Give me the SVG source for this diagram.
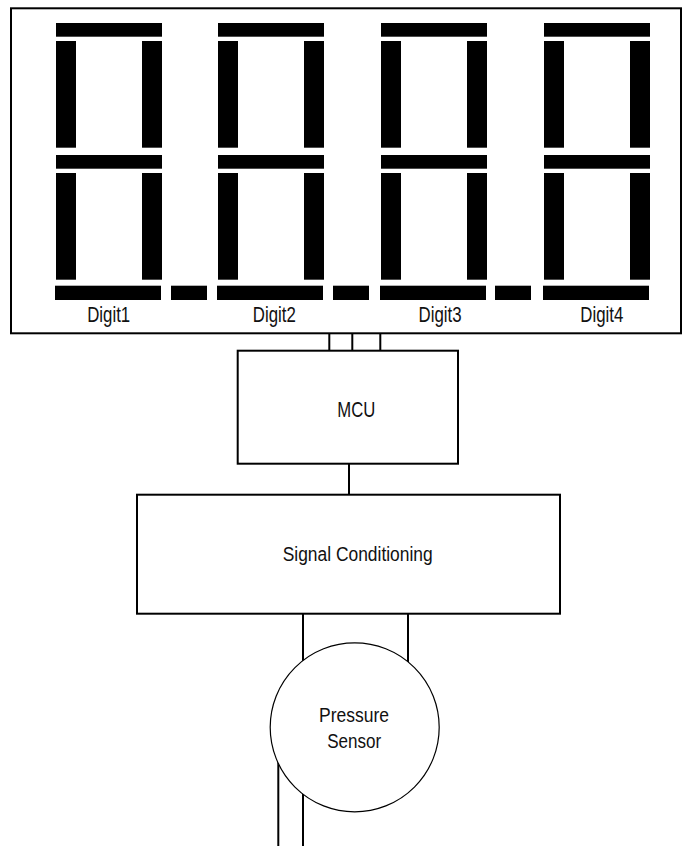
<svg xmlns="http://www.w3.org/2000/svg" xmlns:xlink="http://www.w3.org/1999/xlink" width="683" height="846" viewBox="0 0 683 846">
  <style>
    .box { fill: #ffffff; stroke: #000000; stroke-width: 2; }
    .circ { fill: #ffffff; stroke: #000000; stroke-width: 1.2; }
    .wire { stroke: #000000; stroke-width: 2; fill: none; }
    .seg { fill: #000000; }
    .lbl { font-family: "Liberation Sans", Arial, sans-serif; fill: #111111; text-anchor: middle; }
  </style>
  <defs>
    <g id="segs">
      <rect class="seg" x="0" y="23" width="106" height="13.7"/>
      <rect class="seg" x="0" y="41" width="20" height="106.7"/>
      <rect class="seg" x="86" y="41" width="20" height="106.7"/>
      <rect class="seg" x="0" y="155" width="106" height="13.7"/>
      <rect class="seg" x="0" y="173" width="20" height="106.7"/>
      <rect class="seg" x="86" y="173" width="20" height="106.7"/>
      <rect class="seg" x="-1" y="285.7" width="106" height="14.3"/>
    </g>
    <rect id="dp" class="seg" x="0" y="285.7" width="36" height="14.3"/>
  </defs>

  <g id="display">
    <rect class="box" x="11" y="8.3" width="670" height="325"/>
  </g>

  <g id="digit1">
    <use xlink:href="#segs" x="56" y="0"/>
    <use xlink:href="#dp" x="171" y="0"/>
    <text class="lbl" x="108.7" y="321.5" font-size="21.5" textLength="43" lengthAdjust="spacingAndGlyphs">Digit1</text>
  </g>
  <g id="digit2">
    <use xlink:href="#segs" x="218" y="0"/>
    <use xlink:href="#dp" x="333" y="0"/>
    <text class="lbl" x="274.3" y="321.5" font-size="21.5" textLength="43" lengthAdjust="spacingAndGlyphs">Digit2</text>
  </g>
  <g id="digit3">
    <use xlink:href="#segs" x="381" y="0"/>
    <use xlink:href="#dp" x="495" y="0"/>
    <text class="lbl" x="440" y="321.5" font-size="21.5" textLength="43" lengthAdjust="spacingAndGlyphs">Digit3</text>
  </g>
  <g id="digit4">
    <use xlink:href="#segs" x="544" y="0"/>
    <text class="lbl" x="601.8" y="321.5" font-size="21.5" textLength="43" lengthAdjust="spacingAndGlyphs">Digit4</text>
  </g>

  <g id="connectors">
    <line class="wire" x1="329.3" y1="333" x2="329.3" y2="351"/>
    <line class="wire" x1="352.3" y1="333" x2="352.3" y2="351"/>
    <line class="wire" x1="380.3" y1="333" x2="380.3" y2="351"/>
    <line class="wire" x1="349" y1="464" x2="349" y2="495"/>
    <line class="wire" x1="303" y1="614" x2="303" y2="846"/>
    <line class="wire" x1="408" y1="614" x2="408" y2="700"/>
    <line class="wire" x1="278.3" y1="727" x2="278.3" y2="846"/>
  </g>

  <g id="mcu">
    <rect class="box" x="237.7" y="350.7" width="220.3" height="113"/>
    <text class="lbl" x="356.3" y="416.5" font-size="22" textLength="38" lengthAdjust="spacingAndGlyphs">MCU</text>
  </g>

  <g id="signal-conditioning">
    <rect class="box" x="137" y="494.7" width="423" height="119"/>
    <text class="lbl" x="357.7" y="560.5" font-size="19.5" textLength="150" lengthAdjust="spacingAndGlyphs">Signal Conditioning</text>
  </g>

  <g id="pressure-sensor">
    <circle class="circ" cx="354.7" cy="727.3" r="84.5"/>
    <text class="lbl" x="354" y="721.7" font-size="20" textLength="70" lengthAdjust="spacingAndGlyphs">Pressure</text>
    <text class="lbl" x="354.2" y="747.7" font-size="20" textLength="54" lengthAdjust="spacingAndGlyphs">Sensor</text>
  </g>
</svg>
